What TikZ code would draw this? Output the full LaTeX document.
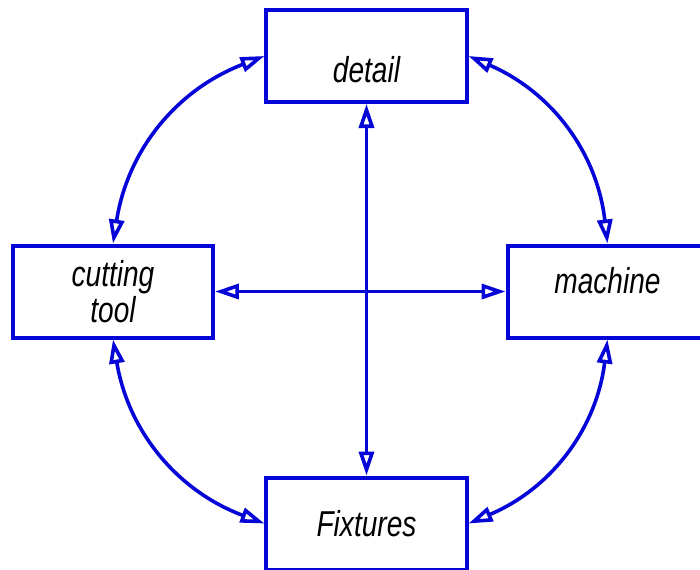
\documentclass[tikz,border=0pt]{standalone}
\usepackage{fontspec}
\setmainfont{Liberation Sans}[FakeStretch=0.78]
\usepackage{xcolor}
\usetikzlibrary{arrows.meta,positioning}
\definecolor{schemeblue}{RGB}{5,5,215}
\begin{document}
\begin{tikzpicture}[<->, >={Triangle[open, length=12pt, width=7.5pt]}, line width=1.8pt, draw=schemeblue, x=0.5pt, y=0.5pt]
	\tikzstyle{block}=[rectangle, fill=white, draw=schemeblue, line width=2pt, text=black, minimum width=100pt, minimum height=46pt, align=center, font=\fontsize{18}{16.5}\selectfont\itshape]
	\useasboundingbox (-366.5,56) rectangle (333.5,-513);

	\node[block, text height=26pt, text depth=0pt] (detail) at (0,0) {detail};
	\node[block] (fixtures) [below of=detail, node distance=233.75pt] {Fixtures};
	\coordinate[below of=detail, node distance=117.75pt] (centre);
	\node[block] (tool) [left of=centre, node distance=126.75pt] {cutting\\tool};
	\node[block, text height=13pt, text depth=11.5pt] (machine) [right of=centre, node distance=120.5pt] {machine};

	\path (tool.north) edge [bend left=30] (detail.west);
	\path (detail.east) edge [bend left=30] (machine.north);
	\path (machine.south) edge [bend left=30] (fixtures.east);
	\path (fixtures.west) edge [bend left=30] (tool.south);
	\path (detail) edge (fixtures);
	\path (tool) edge (machine);
\end{tikzpicture}
\end{document}
